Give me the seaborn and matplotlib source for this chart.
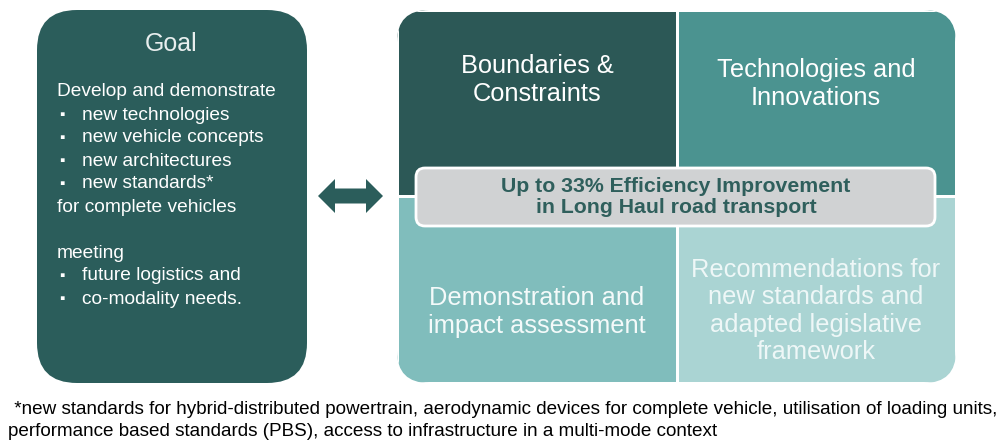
import matplotlib
matplotlib.use("Agg")
import matplotlib.pyplot as plt
import matplotlib.patches as mpatches
from matplotlib.colors import ListedColormap
import seaborn as sns
import numpy as np

# --- content ---
goal_title = "Goal"
goal_lines = ["Develop and demonstrate", "new technologies", "new vehicle concepts",
              "new architectures", "new standards*", "for complete vehicles", "",
              "meeting", "future logistics and", "co-modality needs."]
goal_bullets = [False, True, True, True, True, False, False, False, True, True]

quad_labels = [["Boundaries &\nConstraints", "Technologies and\nInnovations"],
               ["Demonstration and\nimpact assessment",
                "Recommendations for\nnew standards and\nadapted legislative\nframework"]]
quad_shade = [[0, 1], [2, 3]]
quad_colors = ["#2c5856", "#4b9390", "#80bdbc", "#aad4d3"]
quad_text_colors = [["white", "white"], ["#f4fafa", "#eef7f7"]]

center_text = "Up to 33% Efficiency Improvement\nin Long Haul road transport"
footnote = [" *new standards for hybrid-distributed powertrain, aerodynamic devices for complete vehicle, utilisation of loading units,",
            "performance based standards (PBS), access to infrastructure in a multi-mode context"]

dark = "#2b5d5b"

sns.set_theme(style="white")
plt.rcParams['font.family'] = ['Liberation Sans', 'DejaVu Sans']

W, H = 1000, 440
fig = plt.figure(figsize=(10, 4.4), dpi=100)

# block of four quadrants (pixel box)
bx0, bx1, by0, by1 = 397, 956, 10, 383
hm_ax = fig.add_axes([bx0 / W, 1 - by1 / H, (bx1 - bx0) / W, (by1 - by0) / H])
sns.heatmap(np.array(quad_shade), cmap=ListedColormap(quad_colors), vmin=-0.5, vmax=3.5,
            cbar=False, linewidths=2, linecolor="white",
            xticklabels=False, yticklabels=False, ax=hm_ax)
hm_ax.axis("off")

# overlay in pixel coords
ax = fig.add_axes([0, 0, 1, 1])
ax.set_xlim(0, W)
ax.set_ylim(H, 0)
ax.axis("off")
ax.patch.set_alpha(0)

clip = mpatches.FancyBboxPatch((bx0, by0), bx1 - bx0, by1 - by0,
                               boxstyle="round,pad=0,rounding_size=32",
                               transform=ax.transData)
hm_ax.collections[0].set_clip_path(clip)

# quadrant labels
quad_pos = [[(537, 80), (816, 84)], [(537, 312), (816, 311)]]
for i in range(2):
    for j in range(2):
        x, y = quad_pos[i][j]
        ax.text(x, y, quad_labels[i][j], ha="center", va="center", fontsize=18.3,
                color=quad_text_colors[i][j], linespacing=1.18)

# centre box
cbox = mpatches.FancyBboxPatch((416, 168), 935 - 416, 226 - 168,
                               boxstyle="round,pad=0,rounding_size=9",
                               facecolor="#d0d2d3", edgecolor="white", linewidth=2)
ax.add_patch(cbox)
ax.text(676, 197, center_text, ha="center", va="center", fontsize=15.3,
        fontweight="bold", color="#2f5f5c", linespacing=1.14)

# goal box
gbox = mpatches.FancyBboxPatch((37, 10), 307 - 37, 383 - 10,
                               boxstyle="round,pad=0,rounding_size=40",
                               facecolor=dark, edgecolor="none")
ax.add_patch(gbox)
ax.text(171, 44, goal_title, ha="center", va="center", fontsize=18, color="#e8eeee")
y = 92
for line, bul in zip(goal_lines, goal_bullets):
    if bul:
        ax.text(62, y, "\u25aa", ha="center", va="center", fontsize=11, color="white")
        ax.text(82, y, line, ha="left", va="center", fontsize=13.8, color="white")
    elif line:
        ax.text(57, y, line, ha="left", va="center", fontsize=13.8, color="white")
    y += 23

# double arrow
cx0, cx1, cy = 318, 383, 196
hh, sh, hl = 17, 7.5, 17
pts = [(cx0, cy), (cx0 + hl, cy - hh), (cx0 + hl, cy - sh), (cx1 - hl, cy - sh),
       (cx1 - hl, cy - hh), (cx1, cy), (cx1 - hl, cy + hh), (cx1 - hl, cy + sh),
       (cx0 + hl, cy + sh), (cx0 + hl, cy + hh)]
ax.add_patch(mpatches.Polygon(pts, closed=True, facecolor=dark, edgecolor="none"))

# footnote
ax.text(9, 410, footnote[0], ha="left", va="center", fontsize=13.6, color="black")
ax.text(8, 431, footnote[1], ha="left", va="center", fontsize=13.6, color="black")

fig.savefig("out.png", dpi=100)
